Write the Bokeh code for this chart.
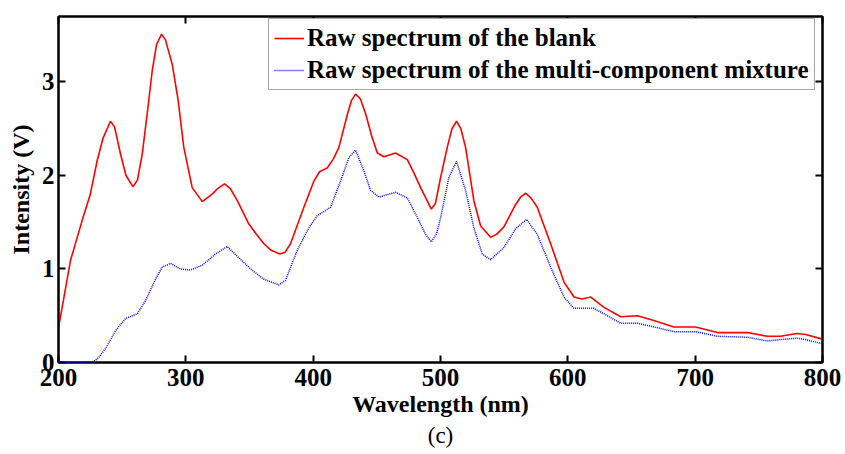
from bokeh.plotting import figure
from bokeh.models import Range1d, LinearAxis, Legend, LegendItem, Title, FixedTicker
from bokeh.embed import file_html
from bokeh.resources import INLINE

# --- data ---
blank_x = [200, 209.4, 218.6, 225, 230.4, 235, 240.8, 244, 248.7, 253, 258.4, 262, 265.8, 270, 273.6,
           277, 280.9, 284, 289.3, 294, 298.4, 305, 312.9, 320.7, 325, 330.4, 335, 340.4, 349.5, 355,
           361.3, 367, 373.8, 378, 382.2, 392.7, 400.6, 405, 411, 416, 420.2, 426.8, 430, 433.3, 437,
           441.2, 446, 450.4, 455.5, 464.7, 473.9, 479, 484.4, 492.8, 496, 500.1, 505.3, 509, 512.6,
           516, 519.7, 526.2, 531.5, 539.4, 544, 549.8, 559, 563, 566.9, 571, 576, 586.5, 597, 604.8,
           611, 618, 628.4, 641.5, 654.6, 667.6, 683.3, 700.4, 717.4, 727.9, 741, 756.7, 767, 780,
           786.8, 800]
blank_y = [0.37, 1.09, 1.52, 1.80, 2.16, 2.40, 2.58, 2.52, 2.23, 2.00, 1.88, 1.95, 2.23, 2.70, 3.12,
           3.40, 3.51, 3.45, 3.19, 2.80, 2.30, 1.87, 1.72, 1.80, 1.86, 1.91, 1.86, 1.73, 1.48, 1.38,
           1.27, 1.20, 1.16, 1.18, 1.27, 1.66, 1.94, 2.04, 2.08, 2.18, 2.30, 2.65, 2.80, 2.87, 2.82,
           2.66, 2.42, 2.24, 2.20, 2.24, 2.17, 2.03, 1.87, 1.64, 1.70, 1.98, 2.30, 2.50, 2.58,
           2.50, 2.30, 1.73, 1.46, 1.34, 1.37, 1.45, 1.69, 1.77, 1.81, 1.76, 1.66, 1.27, 0.86, 0.70,
           0.68, 0.70, 0.59, 0.49, 0.50, 0.45, 0.38, 0.38, 0.32, 0.32, 0.32, 0.28, 0.28, 0.31,
           0.30, 0.25]

mix_x = [200, 215, 227.7, 232, 237, 244.8, 252.6, 261.8, 268.3, 276.2, 281.5, 288, 295.8, 303.7,
         312.9, 323.3, 332.5, 341.6, 351, 361.3, 373.1, 378.3, 387.5, 396.6, 403.2, 413.7, 421.5,
         428, 433.3, 439.8, 445.1, 451.6, 464.7, 473.9, 481.8, 488.3, 492.8, 497, 500.1, 506.6,
         512.6, 519.7, 526.2, 532.8, 539.4, 549.8, 559, 567.6, 576, 586.5, 597, 604.8, 620.5, 631,
         641.5, 654.6, 667.6, 683.3, 700.4, 717.4, 741, 756.7, 767, 780, 786.8, 800]
mix_y = [0.0, 0.0, 0.01, 0.06, 0.15, 0.34, 0.47, 0.52, 0.66, 0.89, 1.02, 1.06, 1.00, 0.99,
         1.04, 1.16, 1.24, 1.12, 1.00, 0.89, 0.83, 0.88, 1.20, 1.44, 1.57, 1.66, 1.94,
         2.19, 2.27, 2.05, 1.84, 1.77, 1.82, 1.76, 1.55, 1.37, 1.29, 1.38, 1.55, 1.98,
         2.15, 1.84, 1.44, 1.16, 1.10, 1.23, 1.43, 1.53, 1.37, 1.02, 0.70, 0.58, 0.58, 0.50,
         0.42, 0.42, 0.38, 0.33, 0.33, 0.28, 0.27, 0.23, 0.245, 0.26, 0.245, 0.20]

x_ticks = [200, 300, 400, 500, 600, 700, 800]
y_ticks = [0, 1, 2, 3]
labels = ["Raw spectrum of the blank", "Raw spectrum of the multi-component mixture"]

FONT = "Liberation Serif"

p = figure(width=845, height=454, output_backend="svg", toolbar_location=None,
           x_range=Range1d(200, 800), y_range=Range1d(0, 3.7),
           min_border_left=58, min_border_right=23, min_border_top=16, min_border_bottom=92)
p.grid.visible = False
p.background_fill_color = "white"
p.border_fill_color = "white"
p.outline_line_color = "black"
p.outline_line_width = 2

r1 = p.line(blank_x, blank_y, line_color="#ff0000", line_width=1.6)
r2 = p.line(mix_x, mix_y, line_color="#0000ff", line_width=1.5, line_dash="1 1", level="overlay")

def style_axis(ax, show_labels=True):
    ax.axis_line_color = "black"
    ax.axis_line_width = 2
    ax.major_tick_in = 7
    ax.major_tick_out = 0
    ax.major_tick_line_width = 2
    ax.major_tick_line_color = "black"
    ax.minor_tick_line_color = None
    ax.major_label_text_font = FONT
    ax.major_label_text_font_style = "bold"
    ax.major_label_text_font_size = "25px"
    ax.major_label_text_color = "black"
    ax.axis_label_text_font = FONT
    ax.axis_label_text_font_style = "bold"
    ax.axis_label_text_font_size = "24px"
    ax.axis_label_text_color = "black"
    if not show_labels:
        ax.major_label_text_color = None
        ax.major_label_text_font_size = "0px"

xa = p.xaxis[0]
ya = p.yaxis[0]
xa.ticker = FixedTicker(ticks=x_ticks)
ya.ticker = FixedTicker(ticks=y_ticks)
style_axis(xa)
style_axis(ya)
xa.axis_label = "Wavelength (nm)"
ya.axis_label = "Intensity (V)"
xa.major_label_standoff = 6
xa.axis_label_standoff = 2
ya.major_label_standoff = 4
ya.axis_label_standoff = 5

top = LinearAxis(ticker=FixedTicker(ticks=x_ticks))
style_axis(top, False)
p.add_layout(top, "above")
right = LinearAxis(ticker=FixedTicker(ticks=y_ticks))
style_axis(right, False)
p.add_layout(right, "right")

p.add_layout(Title(text="(c)", align="center", text_font=FONT, text_font_style="normal",
                   text_font_size="23px", text_color="black", standoff=2), "below")

legend = Legend(items=[LegendItem(label=labels[0], renderers=[r1]),
                       LegendItem(label=labels[1], renderers=[r2])],
                location=(210, 272), orientation="vertical")
legend.label_text_font = FONT
legend.label_text_font_style = "bold"
legend.label_text_font_size = "25px"
legend.label_text_color = "black"
legend.label_height = 26
legend.glyph_height = 26
legend.glyph_width = 30
legend.label_standoff = 3
legend.spacing = 4
legend.padding = 5
legend.margin = 0
legend.border_line_color = "#555555"
legend.border_line_width = 1
legend.background_fill_color = "white"
legend.background_fill_alpha = 1
p.add_layout(legend, "center")

open("out.html", "w").write(file_html(p, INLINE))
